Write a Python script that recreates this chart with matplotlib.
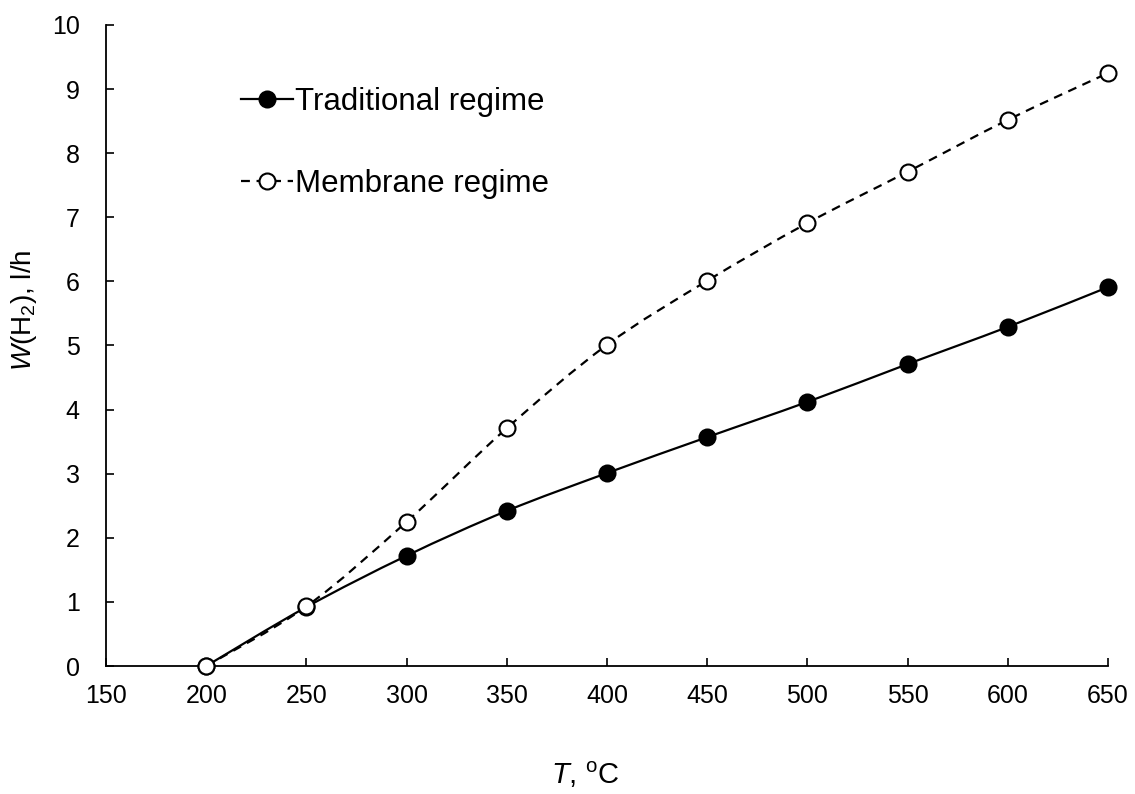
import matplotlib
matplotlib.use("Agg")
import matplotlib.pyplot as plt
from matplotlib.path import Path
from matplotlib.patches import PathPatch
from matplotlib.lines import Line2D
import numpy as np

temperature = [200, 250, 300, 350, 400, 450, 500, 550, 600, 650]
traditional = [0.0, 0.92, 1.72, 2.42, 3.01, 3.57, 4.12, 4.71, 5.29, 5.91]
membrane = [0.0, 0.93, 2.25, 3.71, 5.01, 6.01, 6.91, 7.71, 8.52, 9.25]
x_ticks = [150, 200, 250, 300, 350, 400, 450, 500, 550, 600, 650]
y_ticks = [0, 1, 2, 3, 4, 5, 6, 7, 8, 9, 10]
series_names = ["Traditional regime", "Membrane regime"]

plt.rcParams['font.family'] = ['Liberation Sans', 'DejaVu Sans']
plt.rcParams['mathtext.fontset'] = 'custom'
plt.rcParams['mathtext.rm'] = 'Liberation Sans'
plt.rcParams['mathtext.it'] = 'Liberation Sans:italic'


def smooth_path(xs, ys):
    xs = np.asarray(xs, float)
    ys = np.asarray(ys, float)
    pts = np.column_stack([xs, ys])
    n = len(pts)
    verts = [pts[0]]
    codes = [Path.MOVETO]
    for i in range(n - 1):
        p0 = pts[i - 1] if i > 0 else pts[i]
        p1 = pts[i]
        p2 = pts[i + 1]
        p3 = pts[i + 2] if i + 2 < n else pts[i + 1]
        c1 = p1 + (p2 - p0) / 6.0
        c2 = p2 - (p3 - p1) / 6.0
        verts += [c1, c2, p2]
        codes += [Path.CURVE4] * 3
    return Path(verts, codes)


fig = plt.figure(figsize=(11.35, 7.94), dpi=100)
ax = fig.add_axes([106 / 1135, 1 - 666 / 794, (1108 - 106) / 1135, (666 - 25) / 794])

lw = 1.6
ms = 11.5

# Traditional: solid line, filled markers
ax.add_patch(PathPatch(smooth_path(temperature, traditional), facecolor='none',
                       edgecolor='black', lw=lw, zorder=2, clip_on=False))
ax.plot(temperature, traditional, linestyle='none', marker='o', ms=ms,
        mfc='black', mec='black', mew=1.5, zorder=3, clip_on=False)

# Membrane: dashed line, open markers
ax.add_patch(PathPatch(smooth_path(temperature, membrane), facecolor='none',
                       edgecolor='black', lw=lw, linestyle=(0, (4, 3)), zorder=4,
                       clip_on=False))
ax.plot(temperature, membrane, linestyle='none', marker='o', ms=ms,
        mfc='white', mec='black', mew=1.5, zorder=5, clip_on=False)

ax.set_xlim(150, 650)
ax.set_ylim(0, 10)
ax.set_xticks(x_ticks)
ax.set_yticks(y_ticks)
ax.tick_params(direction='in', length=6, width=1.2, labelsize=18, colors='black')
ax.tick_params(axis='y', pad=19)
ax.tick_params(axis='x', pad=13)
for side in ['top', 'right']:
    ax.spines[side].set_visible(False)
for side in ['left', 'bottom']:
    ax.spines[side].set_linewidth(1.3)
ax.patch.set_alpha(0)

fig.text(24 / 1135, 1 - 310 / 794, r'$\mathit{W}$(H$_2$), l/h', rotation=90,
         fontsize=20, ha='center', va='center')
fig.text(585 / 1135, 1 - 775 / 794, r'$\mathit{T}$, $^{\mathrm{o}}$C',
         fontsize=21, ha='center', va='center')

handles = [
    Line2D([0], [0], color='black', lw=lw, marker='o', ms=ms, mfc='black', mec='black', mew=1.5),
    Line2D([0], [0], color='black', lw=lw, linestyle=(0, (4, 3)), marker='o', ms=ms,
           mfc='white', mec='black', mew=1.5),
]
fig.legend(handles, series_names, loc='upper left', bbox_to_anchor=(241 / 1135, 1 - 87 / 794),
           frameon=False, fontsize=22.5, handlelength=1.65, handletextpad=0.08,
           labelspacing=1.65, borderpad=0, borderaxespad=0)

fig.savefig('out.png', dpi=100, facecolor='white')
